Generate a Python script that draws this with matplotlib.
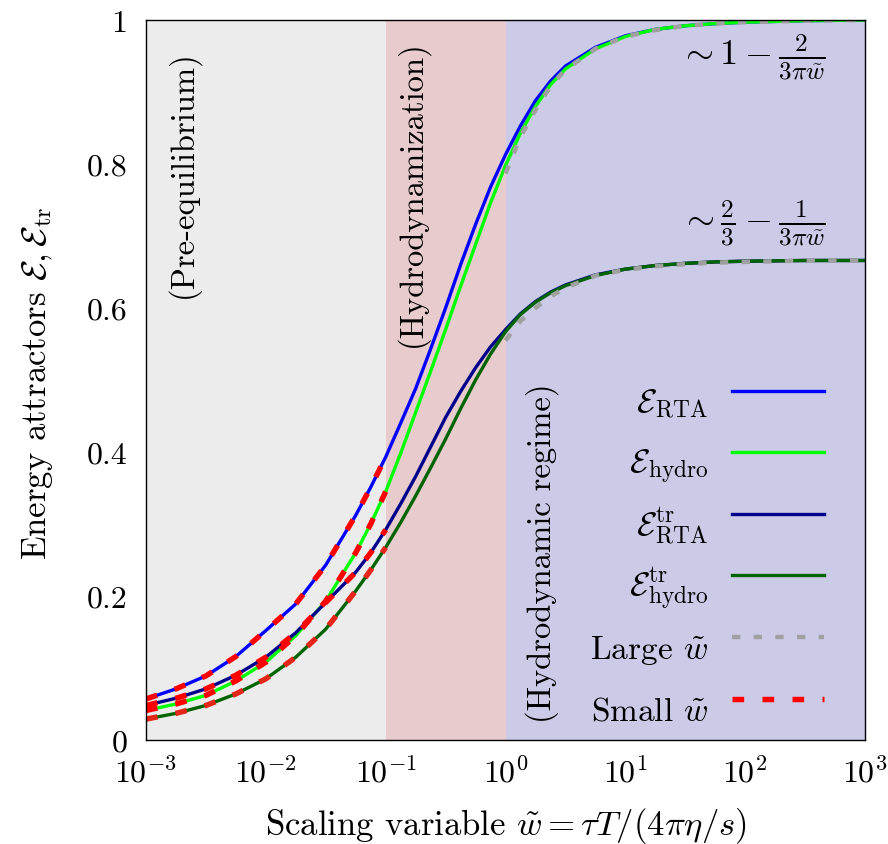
import numpy as np
import matplotlib
matplotlib.use('Agg')
import matplotlib.pyplot as plt
from matplotlib.ticker import FixedLocator, NullLocator, FuncFormatter
from matplotlib.lines import Line2D

plt.rcParams['font.family'] = 'serif'
plt.rcParams['font.serif'] = ['cmr10']
plt.rcParams['mathtext.fontset'] = 'cm'
plt.rcParams['axes.formatter.use_mathtext'] = True
plt.rcParams['lines.scale_dashes'] = False

# ---------------- data ----------------
log_w = [-3, -2.75, -2.5, -2.25, -2, -1.75, -1.5, -1.25, -1.125, -1, -0.875, -0.75,
         -0.625, -0.5, -0.375, -0.25, -0.125, 0, 0.125, 0.25, 0.375, 0.5, 0.75,
         1, 1.25, 1.5, 1.75, 2, 2.5, 3]
E_rta = [0.057, 0.071, 0.089, 0.116, 0.152, 0.189, 0.243, 0.312, 0.351, 0.393, 0.440, 0.488,
         0.543, 0.600, 0.660, 0.716, 0.768, 0.813, 0.853, 0.888, 0.915, 0.936, 0.962,
         0.978, 0.987, 0.992, 0.995, 0.997, 0.999, 1.000]
E_hydro = [0.041, 0.050, 0.062, 0.082, 0.108, 0.145, 0.193, 0.260, 0.300, 0.345, 0.398, 0.455,
           0.512, 0.570, 0.630, 0.688, 0.746, 0.798, 0.843, 0.880, 0.910, 0.932, 0.960,
           0.977, 0.987, 0.992, 0.995, 0.997, 0.999, 1.000]
E_rta_tr = [0.048, 0.058, 0.071, 0.090, 0.115, 0.149, 0.191, 0.233, 0.260, 0.292, 0.328, 0.366,
            0.407, 0.448, 0.484, 0.517, 0.546, 0.570, 0.592, 0.609, 0.622, 0.632, 0.646,
            0.654, 0.659, 0.662, 0.664, 0.665, 0.666, 0.666]
E_hydro_tr = [0.029, 0.037, 0.048, 0.064, 0.085, 0.115, 0.154, 0.207, 0.236, 0.2675, 0.302, 0.339,
              0.378, 0.418, 0.460, 0.500, 0.536, 0.567, 0.591, 0.608, 0.621, 0.631, 0.645,
              0.654, 0.659, 0.662, 0.664, 0.665, 0.666, 0.666]

# large-w expansions (from w = 1)
log_w_large = [0, 0.125, 0.25, 0.375, 0.5, 0.75, 1, 1.25, 1.5, 1.75, 2, 2.5, 3]
E_large = [0.787, 0.838, 0.875, 0.908, 0.931, 0.960, 0.977, 0.986, 0.992, 0.995, 0.997, 0.999, 1.000]
E_large_tr = [0.555, 0.582, 0.600, 0.616, 0.628, 0.645, 0.653, 0.658, 0.661, 0.663, 0.664, 0.666, 0.666]

# small-w expansions (up to w = 0.1)
log_w_small = [-3, -2.75, -2.5, -2.25, -2, -1.75, -1.5, -1.25, -1.125, -1]
E_small_rta = [0.057, 0.071, 0.089, 0.116, 0.152, 0.189, 0.243, 0.312, 0.351, 0.393]
E_small_hydro = [0.041, 0.050, 0.062, 0.082, 0.108, 0.145, 0.193, 0.260, 0.300, 0.345]
E_small_rta_tr = [0.048, 0.058, 0.071, 0.090, 0.115, 0.149, 0.191, 0.233, 0.260, 0.292]
E_small_hydro_tr = [0.029, 0.037, 0.048, 0.064, 0.085, 0.115, 0.154, 0.207, 0.236, 0.2675]

region_edges = [1e-3, 1e-1, 1e0, 1e3]
region_colors = ['#ECECEC', '#E8CBCC', '#CBCBE8']
y_ticks = [0, 0.2, 0.4, 0.6, 0.8, 1]
x_ticks = [1e-3, 1e-2, 1e-1, 1e0, 1e1, 1e2, 1e3]

# ---------------- figure ----------------
W, H = 888, 845
fig = plt.figure(figsize=(W / 100, H / 100), dpi=100)
L, R, T, B = 146, 865, 21, 741
ax = fig.add_axes([L / W, (H - B) / H, (R - L) / W, (B - T) / H])
ax.set_xscale('log')
ax.set_xlim(1e-3, 1e3)
ax.set_ylim(0, 1)

for i in range(3):
    ax.axvspan(region_edges[i], region_edges[i + 1], color=region_colors[i], lw=0, zorder=0)

w = 10.0 ** np.array(log_w)
wl = 10.0 ** np.array(log_w_large)
ws = 10.0 ** np.array(log_w_small)

lw_solid = 2.4
c_rta, c_hyd, c_rta_tr, c_hyd_tr = '#0000FF', '#00FF00', '#00008C', '#006400'
ax.plot(w, E_rta, color=c_rta, lw=lw_solid, zorder=2)
ax.plot(w, E_hydro, color=c_hyd, lw=lw_solid, zorder=2)
ax.plot(w, E_rta_tr, color=c_rta_tr, lw=lw_solid, zorder=2)
ax.plot(w, E_hydro_tr, color=c_hyd_tr, lw=lw_solid, zorder=2)

gray_dash = (0, (6.0, 9.6))
red_dash = (0, (8.4, 13.2))
ax.plot(wl, E_large, color='#A0A0A0', lw=3.2, ls=gray_dash, zorder=3)
ax.plot(wl, E_large_tr, color='#A0A0A0', lw=3.2, ls=gray_dash, zorder=3)
small_sets = (E_small_rta, E_small_hydro, E_small_rta_tr, E_small_hydro_tr)
small_cols = ('#FF0000', '#FF0000', '#FF0000', '#E4261A')
for ys, cc in zip(small_sets, small_cols):
    ax.plot(ws, ys, color=cc, lw=3.9, ls=red_dash, zorder=4)

# axes styling
for s in ax.spines.values():
    s.set_linewidth(1.0)
    s.set_zorder(5)
ax.xaxis.set_major_locator(FixedLocator(x_ticks))
ax.xaxis.set_minor_locator(NullLocator())
ax.yaxis.set_major_locator(FixedLocator(y_ticks))
ax.yaxis.set_major_formatter(FuncFormatter(lambda v, p: '%g' % v))
ax.tick_params(axis='both', which='both', length=0, labelsize=23)
ax.tick_params(axis='x', pad=11)
ax.tick_params(axis='y', pad=13.5)

ax.text(0.5007, -0.1306, r'Scaling variable $\tilde{w} = \tau T/(4\pi\eta/s)$',
        transform=ax.transAxes, ha='center', va='baseline', fontsize=25)
ax.text(-0.151, 0.497, r'Energy attractors $\mathcal{E}, \mathcal{E}_{\rm tr}$',
        transform=ax.transAxes, ha='center', va='center', rotation=90, fontsize=25)

# region labels
fr = 23.5
ax.text((183 - L) / (R - L), (B - 50) / (B - T), '(Pre-equilibrium)', rotation=90,
        ha='center', va='top', transform=ax.transAxes, fontsize=fr, zorder=6)
ax.text((412 - L) / (R - L), (B - 40) / (B - T), '(Hydrodynamization)', rotation=90,
        ha='center', va='top', transform=ax.transAxes, fontsize=fr, zorder=6)
ax.text((542 - L) / (R - L), (B - 723) / (B - T), '(Hydrodynamic regime)', rotation=90,
        ha='center', va='bottom', transform=ax.transAxes, fontsize=fr, zorder=6)

# asymptotic annotations
ax.text((826 - L) / (R - L), (B - 58) / (B - T), r'$\sim 1-\frac{2}{3\pi\tilde{w}}$',
        ha='right', va='center', transform=ax.transAxes, fontsize=26, zorder=6)
ax.text((826 - L) / (R - L), (B - 224) / (B - T), r'$\sim \frac{2}{3}-\frac{1}{3\pi\tilde{w}}$',
        ha='right', va='center', transform=ax.transAxes, fontsize=26, zorder=6)

# legend
handles = [
    Line2D([], [], color=c_rta, lw=lw_solid),
    Line2D([], [], color=c_hyd, lw=lw_solid),
    Line2D([], [], color=c_rta_tr, lw=lw_solid),
    Line2D([], [], color=c_hyd_tr, lw=lw_solid),
    Line2D([], [], color='#A0A0A0', lw=3.2, ls=gray_dash),
    Line2D([], [], color='#FF0000', lw=3.9, ls=red_dash),
]
labels = [r'$\mathcal{E}_{\rm RTA}$', r'$\mathcal{E}_{\rm hydro}$',
          r'$\mathcal{E}^{\rm tr}_{\rm RTA}$', r'$\mathcal{E}^{\rm tr}_{\rm hydro}$',
          r'Large $\tilde{w}$', r'Small $\tilde{w}$']
fl = 24
row_pt = 61.6 * 0.72
hh = (row_pt / fl - 0.245) / 0.65
leg = ax.legend(handles, labels, loc='lower right', frameon=False, markerfirst=False,
                fontsize=fl, handlelength=66.2 / fl, handletextpad=17.3 / fl,
                handleheight=hh, labelspacing=0.0, borderpad=0, borderaxespad=0,
                bbox_to_anchor=((824 - L) / (R - L), (B - 699 - 30.8 - 11) / (B - T)))
leg.set_zorder(6)

fig.savefig('out.png', dpi=100)
